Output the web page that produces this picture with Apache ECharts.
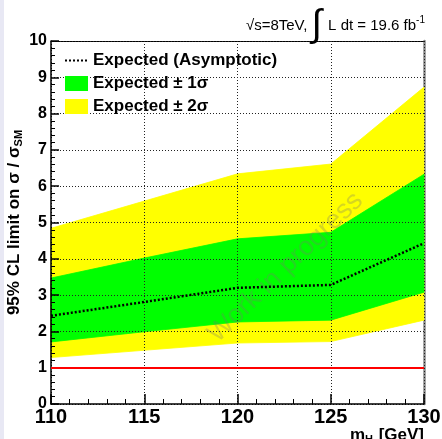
<!DOCTYPE html>
<html>
<head>
<meta charset="utf-8">
<script src="https://cdn.jsdelivr.net/npm/echarts@6/dist/echarts.min.js"></script>
<style>
html, body { margin: 0; padding: 0; background: #e8e8f4; }
#chart { position: absolute; left: 4px; top: 0; width: 438px; height: 439px; background: #ffffff; }
</style>
</head>
<body>
<div id="chart"></div>
<script>
// Higgs mass points (GeV)
const massPoints = [110, 115, 120, 125, 130];
// Expected 95% CL limit on sigma/sigma_SM
const expected = [2.43, 2.81, 3.20, 3.28, 4.43];
const minus1 = [1.71, 1.99, 2.26, 2.31, 3.08];
const plus1  = [3.47, 4.02, 4.55, 4.73, 6.33];
const minus2 = [1.28, 1.48, 1.68, 1.72, 2.31];
const plus2  = [4.84, 5.59, 6.34, 6.61, 8.73];
const smReference = 1;
const yTicks = [0, 1, 2, 3, 4, 5, 6, 7, 8, 9, 10];
const xTicks = [110, 115, 120, 125, 130];

const FONT = '"Liberation Sans", Arial, Helvetica, sans-serif';
const pairs = (ys) => massPoints.map((x, i) => [x, ys[i]]);
// band segments: [x0, x1, lo0, lo1, hi0, hi1]
const segments = (lo, hi) => massPoints.slice(0, -1).map((x, i) =>
  [x, massPoints[i + 1], lo[i], lo[i + 1], hi[i], hi[i + 1]]);

const chart = echarts.init(document.getElementById('chart'), null, { renderer: 'canvas' });

const gridLine = { show: true, lineStyle: { color: '#222', width: 1, type: [1, 2] } };

function bandSeries(name, lo, hi, color) {
  return {
    name, type: 'custom', data: segments(lo, hi),
    dimensions: ['x0', 'x1', 'lo0', 'lo1', 'hi0', 'hi1'],
    encode: { x: [0, 1], y: [2, 3, 4, 5] },
    itemStyle: { color },
    z: 2, silent: true,
    renderItem: function (params, api) {
      const a = api.coord([api.value(0), api.value(2)]);
      const b = api.coord([api.value(1), api.value(3)]);
      const c = api.coord([api.value(1), api.value(5)]);
      const d = api.coord([api.value(0), api.value(4)]);
      return {
        type: 'polygon',
        shape: { points: [a, b, c, d] },
        style: { fill: color, stroke: color, lineWidth: 0.8 }
      };
    }
  };
}

chart.setOption({
  animation: false,
  textStyle: { fontFamily: FONT },
  grid: { left: 47, right: 18, top: 41, bottom: 35, containLabel: false, outerBoundsMode: 'none' },
  title: [
    {
      text: '√s=8TeV, {int|∫} L dt = 19.6 fb{sup|-1}',
      right: 12, top: 2,
      textStyle: {
        fontFamily: FONT, fontSize: 15, fontWeight: 'normal', color: '#000',
        rich: {
          int: { fontFamily: FONT, fontSize: 38, color: '#000', padding: [0, 2, 0, 0] },
          sup: { fontFamily: FONT, fontSize: 10, color: '#000', verticalAlign: 'middle', padding: [0, 0, 12, 0] }
        }
      }
    },
    {
      text: 'm{sub|H} [GeV]',
      right: 13, top: 421,
      textStyle: {
        fontFamily: FONT, fontSize: 17, fontWeight: 'bold', color: '#000',
        rich: {
          sub: { fontFamily: FONT, fontSize: 11, fontWeight: 'bold', color: '#000', padding: [8, 1, 0, 0] }
        }
      }
    }
  ],
  legend: {
    orient: 'vertical', left: 55, top: 47,
    itemWidth: 23, itemHeight: 15, itemGap: 6,
    textStyle: { fontFamily: FONT, fontSize: 17, fontWeight: 'bold', color: '#000' },
    data: [
      { name: 'Expected (Asymptotic)', itemStyle: { opacity: 0 } },
      { name: 'Expected ± 1σ', icon: 'rect' },
      { name: 'Expected ± 2σ', icon: 'rect' }
    ],
    selectedMode: false
  },
  xAxis: [
    {
      type: 'value', min: xTicks[0], max: xTicks[xTicks.length - 1], interval: 5,
      z: 3,
      axisLine: { show: true, onZero: false, lineStyle: { color: '#000', width: 1.5 } },
      axisTick: { show: true, inside: true, length: 10, lineStyle: { color: '#000', width: 1.5 } },
      minorTick: { show: true, splitNumber: 5, length: 5, lineStyle: { color: '#000', width: 1 } },
      axisLabel: { show: true, margin: 3, fontFamily: FONT, fontSize: 20, fontWeight: 'bold', color: '#000' },
      splitLine: gridLine
    },
    {
      type: 'value', position: 'top', min: xTicks[0], max: xTicks[xTicks.length - 1],
      axisLine: { show: true, onZero: false, lineStyle: { color: '#000', width: 1 } },
      axisTick: { show: false }, axisLabel: { show: false }, splitLine: { show: false }
    }
  ],
  yAxis: [
    {
      type: 'value', min: yTicks[0], max: yTicks[yTicks.length - 1], interval: 1,
      z: 3,
      name: '95% CL limit on σ / σ{sub|SM}',
      nameLocation: 'middle', nameGap: 27, nameRotate: 90, nameMoveOverlap: false,
      nameTextStyle: {
        fontFamily: FONT, fontSize: 17, fontWeight: 'bold', color: '#000',
        rich: { sub: { fontFamily: FONT, fontSize: 11, fontWeight: 'bold', color: '#000', padding: [8, 0, 0, 0] } }
      },
      axisLine: { show: true, onZero: false, lineStyle: { color: '#000', width: 1.5 } },
      axisTick: { show: true, inside: true, length: 8, lineStyle: { color: '#000', width: 1.5 } },
      minorTick: { show: true, splitNumber: 5, length: 4, lineStyle: { color: '#000', width: 1 } },
      axisLabel: { show: true, margin: 4, fontFamily: FONT, fontSize: 16, fontWeight: 'bold', color: '#000' },
      splitLine: gridLine
    },
    {
      type: 'value', position: 'right', min: yTicks[0], max: yTicks[yTicks.length - 1],
      axisLine: { show: true, onZero: false, lineStyle: { color: '#8a8a8a', width: 2.5 } },
      axisTick: { show: false }, axisLabel: { show: false }, splitLine: { show: false }
    }
  ],
  graphic: [
    {
      type: 'text', left: 199, top: 187,
      rotation: 44 * Math.PI / 180,
      originX: 0, originY: 0,
      style: {
        text: 'Work in progress', font: 'normal 27px ' + FONT,
        fill: 'rgba(120,120,110,0.3)'
      },
      z: 5, silent: true
    }
  ],
  series: [
    bandSeries('Expected ± 2σ', minus2, plus2, '#ffff00'),
    bandSeries('Expected ± 1σ', minus1, plus1, '#00ff00'),
    {
      name: 'Expected (Asymptotic)', type: 'line', data: pairs(expected),
      symbol: 'none', showSymbol: false, z: 6,
      itemStyle: { color: '#000' },
      lineStyle: { color: '#000', width: 2.5, type: [2, 2] }
    },
    {
      name: 'SM', type: 'line', data: [], z: 6,
      markLine: {
        silent: true, symbol: 'none', label: { show: false },
        lineStyle: { color: '#ff0000', width: 2, type: 'solid' },
        data: [{ yAxis: smReference }]
      }
    }
  ]
});
</script>
</body>
</html>
